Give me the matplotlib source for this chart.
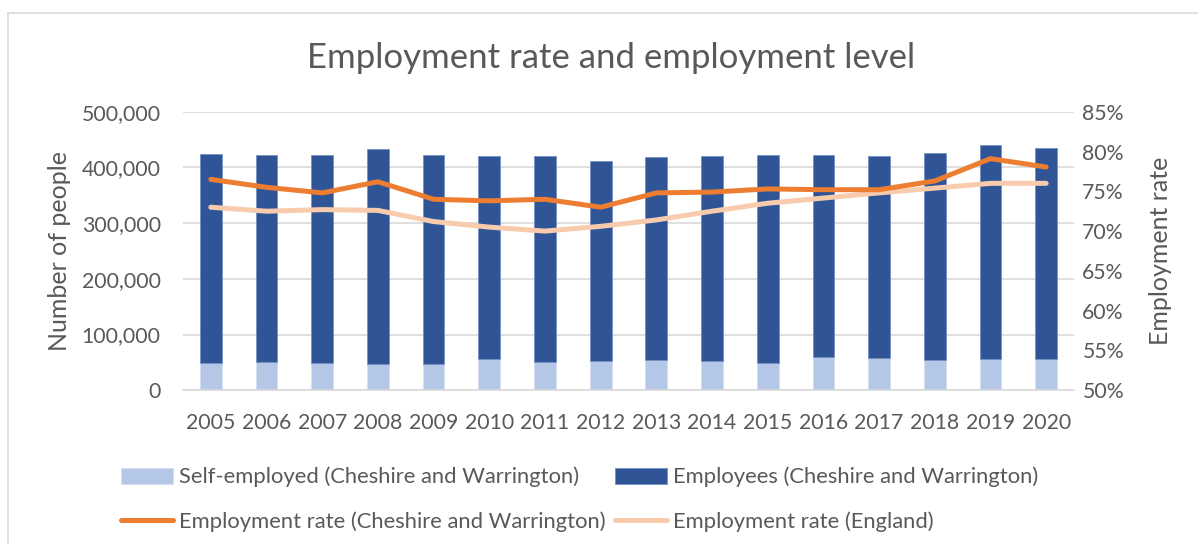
import numpy as np
import matplotlib
matplotlib.use('Agg')
import matplotlib.pyplot as plt
from matplotlib.ticker import FuncFormatter
from matplotlib.lines import Line2D

# data
years = [str(y) for y in range(2005, 2021)]
self_employed = [48500, 50000, 48500, 46700, 46700, 55700, 50000, 52600,
                 54400, 52600, 49000, 59800, 58600, 54400, 56800, 55700]
total_employed = [424000, 423000, 423000, 433000, 421600, 420500, 420500, 412000,
                  419000, 420500, 423000, 421600, 420500, 426000, 440000, 435000]
employees = [t - s for t, s in zip(total_employed, self_employed)]
rate_cw = [76.5, 75.5, 74.8, 76.2, 74.0, 73.8, 74.0, 73.0,
           74.8, 74.9, 75.3, 75.2, 75.2, 76.3, 79.1, 78.05]
rate_eng = [73.0, 72.5, 72.7, 72.6, 71.2, 70.5, 70.0, 70.6,
            71.4, 72.5, 73.5, 74.15, 74.8, 75.4, 76.0, 76.0]

# style
plt.rcParams['font.family'] = ['Lato', 'DejaVu Sans']
txt = '#595959'
grid = '#D9D9D9'
c_self = '#B4C7E7'
c_emp = '#2F5597'
c_cw = '#ED7D31'
c_eng = '#F8CBAD'

W, H = 1198, 544
fig = plt.figure(figsize=(W / 100, H / 100), dpi=100, facecolor='w')
ax = fig.add_axes([183 / W, 1 - 390.3 / H, (1074 - 183) / W, (390.3 - 111.7) / H])
ax2 = ax.twinx()

x = np.arange(len(years))
bw = 0.39
b1 = ax.bar(x, self_employed, bw, color=c_self, edgecolor='#D6E0F2', lw=0.5, zorder=2)
b2 = ax.bar(x, employees, bw, bottom=self_employed, color=c_emp,
            edgecolor='#6F8CC0', lw=0.5, zorder=2)
l2, = ax2.plot(x, np.array(rate_eng) / 100, color=c_eng, lw=3.6,
               solid_capstyle='round', solid_joinstyle='round', zorder=3)
l1, = ax2.plot(x, np.array(rate_cw) / 100, color=c_cw, lw=3.6,
               solid_capstyle='round', solid_joinstyle='round', zorder=4)

ax.set_xlim(-0.5, len(years) - 0.5)
ax.set_ylim(0, 500000)
ax.set_yticks(np.arange(0, 500001, 100000))
ax.yaxis.set_major_formatter(FuncFormatter(lambda v, p: f'{int(v):,}'))
ax.set_xticks(x)
ax.set_xticklabels(years)
ax.grid(axis='y', color=grid, lw=1.2, zorder=0)
ax.set_axisbelow(True)
ax2.set_ylim(0.50, 0.85)
ax2.set_yticks(np.arange(0.50, 0.851, 0.05))
ax2.yaxis.set_major_formatter(FuncFormatter(lambda v, p: f'{round(v * 100)}%'))

for a in (ax, ax2):
    for s in a.spines.values():
        s.set_visible(False)
    a.tick_params(length=0, colors=txt, labelsize=15.3)
ax.spines['bottom'].set_visible(True)
ax.spines['bottom'].set_color(grid)
ax.spines['bottom'].set_linewidth(1.2)
ax.tick_params(axis='x', pad=16)
ax.tick_params(axis='y', pad=16)
ax2.tick_params(axis='y', pad=6)

ax.set_ylabel('Number of people', color=txt, fontsize=18, labelpad=8)
ax2.set_ylabel('Employment rate', color=txt, fontsize=18, labelpad=18)

fig.text(611 / W, 1 - 58 / H, 'Employment rate and employment level',
         ha='center', va='center', color=txt, fontsize=25)

# legend
leg = fig.legend([b1, l1, b2, l2],
                 ['Self-employed (Cheshire and Warrington)',
                  'Employment rate (Cheshire and Warrington)',
                  'Employees (Cheshire and Warrington)',
                  'Employment rate (England)'],
                 loc='upper left', bbox_to_anchor=(101 / W, 1 - 447 / H),
                 ncol=2, frameon=False, fontsize=15.8, labelcolor=txt,
                 handlelength=2.37, handleheight=0.75, handletextpad=0.27,
                 columnspacing=0.45, labelspacing=1.1)

# chart border
fig.add_artist(Line2D([8 / W, 1], [1 - 13 / H, 1 - 13 / H], color=grid, lw=1.2))
fig.add_artist(Line2D([8 / W, 8 / W], [0, 1 - 13 / H], color=grid, lw=1.2))

fig.savefig('out.png', dpi=100, facecolor='w')
